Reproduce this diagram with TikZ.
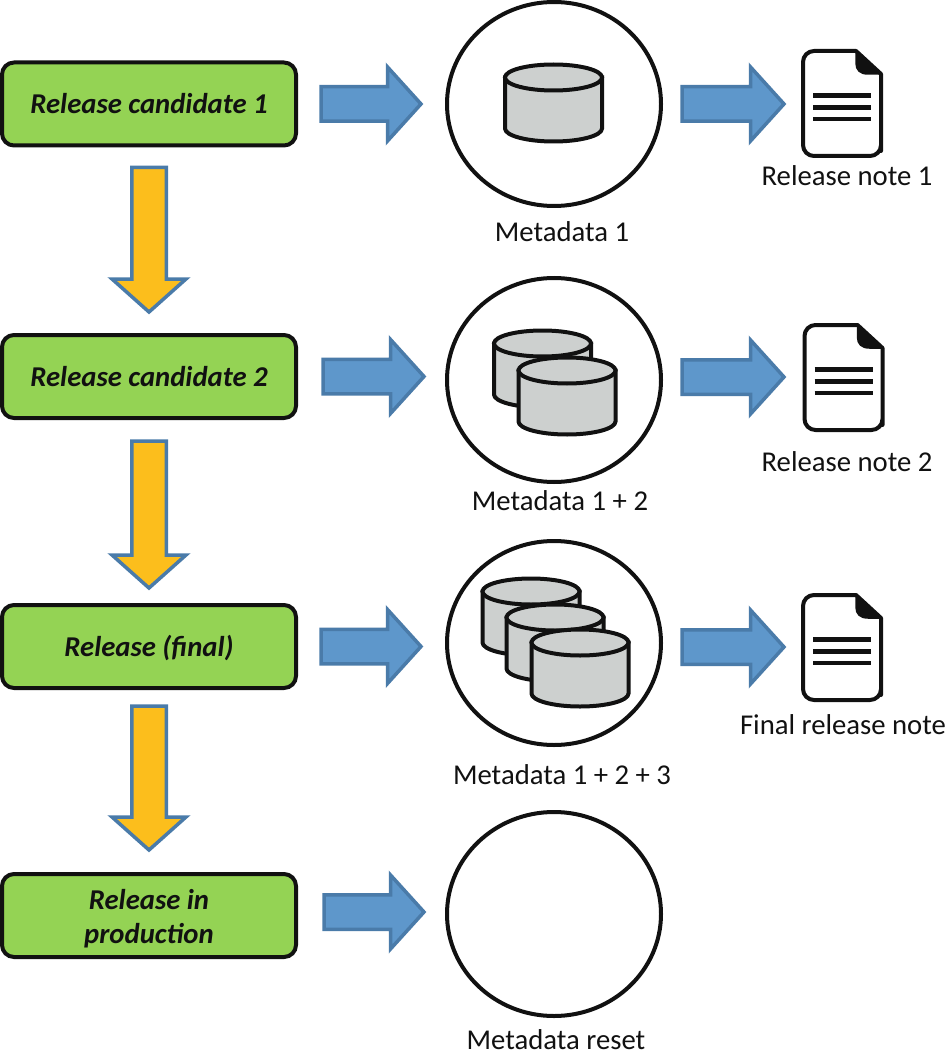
\documentclass[tikz,border=0pt]{standalone}
\usepackage{fontspec}
\setmainfont{Carlito}
\usetikzlibrary{calc,shapes.geometric}
\definecolor{boxgreen}{HTML}{94D354}
\definecolor{amber}{HTML}{FCBE1C}
\definecolor{flowblue}{HTML}{5E97CB}
\definecolor{edgeblue}{HTML}{4A7BA9}
\definecolor{cylgrey}{HTML}{CDD0CF}
\definecolor{ink}{HTML}{111111}
\tikzset{
  stagebox/.style={draw=ink,line width=4pt,fill=boxgreen,rounded corners=12pt,minimum width=294pt,minimum height=83pt,inner sep=0pt,outer sep=0pt,font=\fontsize{28.7}{34}\selectfont\bfseries\itshape,text=ink,align=center},
  oneline/.style={text height=22pt,text depth=2pt},
  metacircle/.style={draw=ink,line width=4pt,fill=white,ellipse,minimum width=214pt,minimum height=204pt,inner sep=0pt,outer sep=0pt},
  caption/.style={anchor=base,inner sep=0pt,font=\fontsize{28.7}{34}\selectfont,text=ink},
  blockh/.style={draw=edgeblue,fill=flowblue,line width=3.5pt,miter limit=10},
  blockv/.style={draw=edgeblue,fill=amber,line width=3.5pt,miter limit=10},
  cylline/.style={draw=ink,line width=4pt,fill=cylgrey},
  docline/.style={draw=ink,line width=4pt,fill=white,line join=round},
  docrule/.style={draw=ink,line width=4.5pt}
}
% horizontal block arrow: from node #1 (+gap #2) to node #3 (-gap #4), vertical shift #5
\newcommand{\flowarrow}[5]{%
  \draw[blockh] let \p1=($(#1)+(#2,#5)$), \p2=($(#3)+(-#4,#5)$) in
    (\x1,{\y1+17.25pt}) -- ({\x2-33.5pt},{\y1+17.25pt}) -- ({\x2-33.5pt},{\y1+37pt}) -- (\x2,\y1)
    -- ({\x2-33.5pt},{\y1-37pt}) -- ({\x2-33.5pt},{\y1-17.25pt}) -- (\x1,{\y1-17.25pt}) -- cycle;}
% vertical block arrow: from node #1 (+gap #2) to node #3 (-gap #4)
\newcommand{\stagearrow}[4]{%
  \draw[blockv] let \p1=($(#1)+(0,#2)$), \p2=($(#3)+(0,-#4)$) in
    ({\x1-17.25pt},\y1) -- ({\x1-17.25pt},{\y2+33pt}) -- ({\x1-37pt},{\y2+33pt}) -- (\x1,\y2)
    -- ({\x1+37pt},{\y2+33pt}) -- ({\x1+17.25pt},{\y2+33pt}) -- ({\x1+17.25pt},\y1) -- cycle;}
% cylinder: top ellipse centre #1,#2
\newcommand{\metacyl}[2]{%
  \begin{scope}[shift={(#1,#2)}]
    \draw[cylline] (-48.5,0) -- (-48.5,51) arc[start angle=180,end angle=360,x radius=48.5,y radius=-13] -- (48.5,0) -- cycle;
    \draw[cylline] (0,0) ellipse[x radius=48.5,y radius=13];
  \end{scope}}
% document icon: shift #1,#2 from the first one
\newcommand{\noteicon}[2]{%
  \begin{scope}[shift={(#1,#2)}]
    \draw[docline] (856,51) [rounded corners=11pt] -- (803,51) -- (803,156) -- (881,156) -- (881,140) [sharp corners] -- (881,74) -- cycle;
    \fill[ink,draw=ink,line width=1.5pt,line join=round] (856,51) -- (881,74) -- (868,74) .. controls (860,74) and (856,70) .. (856,63) -- cycle;
    \draw[docrule] (813,95.5) -- (871,95.5);
    \draw[docrule] (813,107.5) -- (871,107.5);
    \draw[docrule] (813,119) -- (871,119);
  \end{scope}}
\begin{document}
\begin{tikzpicture}[x=1pt,y=-1pt]
\fill[white] (0,0) rectangle (950,1059);
\useasboundingbox (0,0) rectangle (950,1059);

\node[stagebox,oneline] (rc1) at (149,104) {Release candidate 1};
\node[stagebox,oneline] (rc2) at (149,376.5) {Release candidate 2};
\node[stagebox,oneline] (rel) at (149,646.5) {Release (final)};
\node[stagebox] (prod) at (149,915.5) {\rule{0pt}{26pt}Release in\\production};

\node[metacircle] (m1) at (554,104) {};
\node[metacircle] (m2) at (554,380) {};
\node[metacircle] (m3) at (554,643) {};
\node[metacircle] (m4) at (554,914) {};

\metacyl{553.5}{77.5}
\metacyl{542.5}{343.5}
\metacyl{567}{370.5}
\metacyl{531}{591.5}
\metacyl{555}{617.5}
\metacyl{580}{642.5}

\noteicon{0}{0}
\noteicon{1.5}{274}
\noteicon{0}{544}
\coordinate (n1) at (803,104);
\coordinate (n2) at (803,377);
\coordinate (n3) at (803,647);

\node[caption] (c1) at (562,242) {Metadata 1};
\node[caption] (c2) at (560,510.7) {Metadata 1 + 2};
\node[caption] (c3) at (562,784) {Metadata 1 + 2 + 3};
\node[caption] (c4) at (556,1049) {Metadata reset};
\node[caption] (l1) at (847,186) {Release note 1};
\node[caption] (l2) at (847,471) {Release note 2};
\node[caption] (l3) at (843,734) {Final release note};

\flowarrow{rc1.east}{25}{m1.west}{26}{0}
\flowarrow{rc2.east}{27}{m2.west}{23}{0}
\flowarrow{rel.east}{25}{m3.west}{26}{0}
\flowarrow{prod.east}{28}{m4.west}{23}{-3.5}
\coordinate (o1) at ($(m1.east)+(0,0)$);
\coordinate (o2) at ($(m2.east)+(0,-3)$);
\coordinate (o3) at ($(m3.east)+(0,4)$);
\flowarrow{o1}{21}{n1}{19}{0}
\flowarrow{o2}{21}{n2}{19}{0}
\flowarrow{o3}{21}{n3}{19}{0}

\stagearrow{rc1.south}{22}{rc2.north}{23}
\stagearrow{rc2.south}{23}{rel.north}{17}
\stagearrow{rel.south}{18}{prod.north}{24}
\end{tikzpicture}
\end{document}
